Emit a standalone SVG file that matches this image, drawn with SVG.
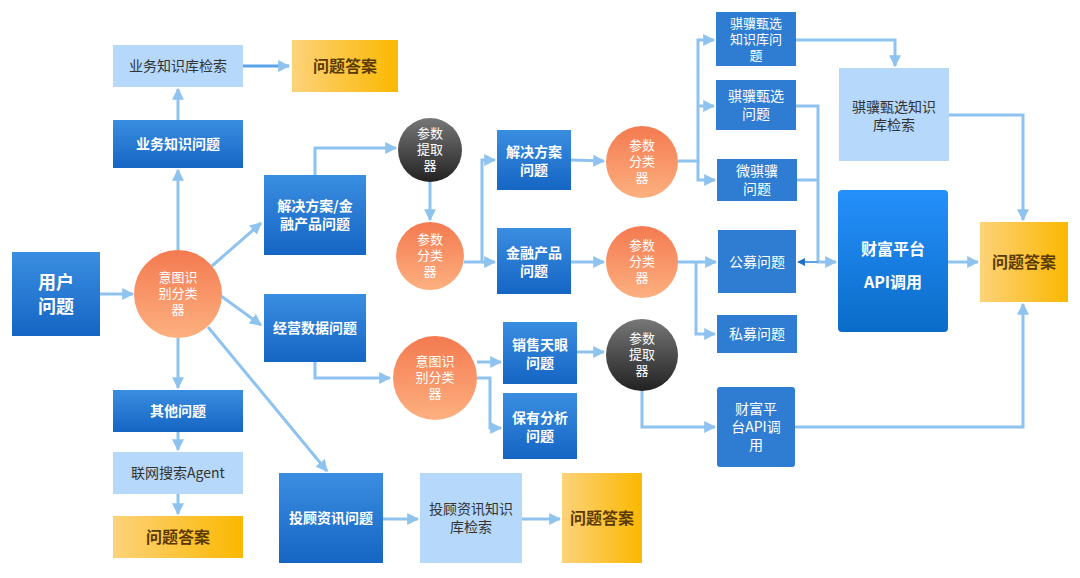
<svg xmlns="http://www.w3.org/2000/svg" width="1080" height="578" viewBox="0 0 1080 578">
<defs>
<linearGradient id="gb" x1="0" y1="0" x2="0" y2="1"><stop offset="0" stop-color="#3a8ee0"/><stop offset="1" stop-color="#1565c4"/></linearGradient>
<linearGradient id="gbig" x1="0" y1="0" x2="0" y2="1"><stop offset="0" stop-color="#2590fb"/><stop offset="1" stop-color="#0a6cc8"/></linearGradient>
<linearGradient id="gy" x1="0" y1="0" x2="1" y2="0"><stop offset="0" stop-color="#fdd27a"/><stop offset="1" stop-color="#fbb800"/></linearGradient>
<linearGradient id="go" x1="0" y1="0" x2="0" y2="1"><stop offset="0" stop-color="#f47a50"/><stop offset="1" stop-color="#fdb080"/></linearGradient>
<linearGradient id="gd" x1="0" y1="0" x2="0" y2="1"><stop offset="0" stop-color="#777"/><stop offset="1" stop-color="#222"/></linearGradient>
<marker id="ar" viewBox="0 0 10 10" refX="9" refY="5" markerWidth="4" markerHeight="4" orient="auto"><path d="M0,0L10,5L0,10z" fill="#8ec3ef"/></marker>
<marker id="ard" viewBox="0 0 10 10" refX="9" refY="5" markerWidth="4" markerHeight="4" orient="auto"><path d="M0,0L10,5L0,10z" fill="#1f6fc8"/></marker>
<style>
.b{fill:url(#gb)}.l{fill:#b5d8fb}.y{fill:url(#gy)}
.t{font-family:"Noto Sans CJK SC","Noto Sans",sans-serif;font-size:14px;fill:#fff;text-anchor:middle}
.s{font-size:13px}
.tb{font-weight:bold}
.td{fill:#333}.ty{fill:#5a3a00;font-weight:bold;font-size:16px}
.c path,.c line,.c polyline{fill:none;stroke:#8ec3ef;stroke-width:3;marker-end:url(#ar)}
</style>
</defs>
<g class="c" id="connectors">
<line x1="100" y1="294" x2="133" y2="294"/>
<line x1="178" y1="250" x2="178" y2="170"/>
<line x1="178" y1="120" x2="178" y2="89"/>
<line x1="243" y1="66" x2="289" y2="66" style="stroke:#5aa3e8"/>
<line x1="178" y1="338" x2="178" y2="388"/>
<line x1="178" y1="432" x2="178" y2="450"/>
<line x1="178" y1="494" x2="178" y2="514"/>
<line x1="212" y1="266" x2="261" y2="223"/>
<line x1="221" y1="296" x2="261" y2="325"/>
<line x1="208" y1="327" x2="327" y2="471"/>
<polyline points="315,175 315,148 396,148"/>
<line x1="430" y1="182" x2="430" y2="220"/>
<polyline points="464,262 482,262 482,160 495,160"/>
<line x1="482" y1="262" x2="495" y2="262"/>
<line x1="571" y1="160" x2="604" y2="161"/>
<line x1="571" y1="262" x2="604" y2="262"/>
<polyline points="678,161 698,161 698,40 714,40"/>
<line x1="698" y1="106" x2="714" y2="106"/>
<polyline points="698,161 698,180 715,180"/>
<polyline points="796,40 895,40 895,66"/>
<polyline points="796,106 818,106 818,262 836,262"/>
<polyline points="797,180 818,180" style="marker-end:none"/>
<line x1="818" y1="262" x2="798" y2="262" style="stroke:#5aa3e8;stroke-width:2;marker-end:url(#ard)"/>
<line x1="678" y1="262" x2="716" y2="262"/>
<polyline points="696,262 696,334 715,334"/>
<polyline points="949,115 1023,115 1023,220"/>
<line x1="948" y1="262" x2="978" y2="262"/>
<polyline points="315,362 315,378 390,378"/>
<line x1="477" y1="362" x2="501" y2="362"/>
<polyline points="477,378 490,378 490,428 501,428"/>
<line x1="577" y1="352" x2="604" y2="352"/>
<polyline points="642,391 642,427 715,427"/>
<polyline points="795,427 1023,427 1023,304"/>
<line x1="383" y1="519" x2="418" y2="519"/>
<line x1="522" y1="519" x2="560" y2="519"/>
</g>
<g id="n1"><rect class="b" x="12" y="252" width="88" height="84"/><text class="t tb" x="56" y="289" style="font-size:18px">用户</text><text class="t tb" x="56" y="313" style="font-size:18px">问题</text></g>
<g id="n2"><circle cx="178" cy="294" r="44" fill="url(#go)"/><text class="t s" x="178" y="282">意图识</text><text class="t s" x="178" y="298">别分类</text><text class="t s" x="178" y="314">器</text></g>
<g id="n3"><rect class="b" x="113" y="120" width="130" height="48"/><text class="t tb" x="178" y="149">业务知识问题</text></g>
<g id="n4"><rect class="l" x="113" y="45" width="130" height="42"/><text class="t td" x="178" y="71">业务知识库检索</text></g>
<g id="n5"><rect class="y" x="292" y="40" width="106" height="52"/><text class="t ty" x="345" y="72">问题答案</text></g>
<g id="n6"><rect class="b" x="113" y="390" width="130" height="42"/><text class="t tb" x="178" y="416">其他问题</text></g>
<g id="n7"><rect class="l" x="113" y="452" width="130" height="42"/><text class="t td" x="178" y="478">联网搜索Agent</text></g>
<g id="n8"><rect class="y" x="113" y="516" width="130" height="42"/><text class="t ty" x="178" y="543">问题答案</text></g>
<g id="n9"><rect class="b" x="264" y="175" width="102" height="80"/><text class="t tb" x="315" y="211">解决方案/金</text><text class="t tb" x="315" y="229">融产品问题</text></g>
<g id="n10"><rect class="b" x="264" y="294" width="102" height="68"/><text class="t tb" x="315" y="333">经营数据问题</text></g>
<g id="n11"><rect class="b" x="279" y="473" width="104" height="90"/><text class="t tb" x="331" y="523">投顾资讯问题</text></g>
<g id="n12"><rect class="l" x="420" y="473" width="102" height="90"/><text class="t td" x="471" y="514">投顾资讯知识</text><text class="t td" x="471" y="532">库检索</text></g>
<g id="n13"><rect class="y" x="562" y="473" width="80" height="90"/><text class="t ty" x="602" y="524">问题答案</text></g>
<g id="n14"><circle cx="430" cy="150" r="32" fill="url(#gd)"/><text class="t s" x="430" y="138">参数</text><text class="t s" x="430" y="154">提取</text><text class="t s" x="430" y="170">器</text></g>
<g id="n15"><circle cx="430" cy="256" r="34" fill="url(#go)"/><text class="t s" x="430" y="244">参数</text><text class="t s" x="430" y="260">分类</text><text class="t s" x="430" y="276">器</text></g>
<g id="n16"><rect class="b" x="497" y="130" width="74" height="60"/><text class="t tb" x="534" y="157">解决方案</text><text class="t tb" x="534" y="175">问题</text></g>
<g id="n17"><rect class="b" x="497" y="228" width="74" height="66"/><text class="t tb" x="534" y="258">金融产品</text><text class="t tb" x="534" y="276">问题</text></g>
<g id="n18"><circle cx="642" cy="162" r="36" fill="url(#go)"/><text class="t s" x="642" y="150">参数</text><text class="t s" x="642" y="166">分类</text><text class="t s" x="642" y="182">器</text></g>
<g id="n19"><circle cx="642" cy="262" r="36" fill="url(#go)"/><text class="t s" x="642" y="250">参数</text><text class="t s" x="642" y="266">分类</text><text class="t s" x="642" y="282">器</text></g>
<g id="n20"><circle cx="435" cy="378" r="42" fill="url(#go)"/><text class="t s" x="435" y="366">意图识</text><text class="t s" x="435" y="382">别分类</text><text class="t s" x="435" y="398">器</text></g>
<g id="n21"><rect class="b" x="503" y="322" width="74" height="62"/><text class="t tb" x="540" y="350">销售天眼</text><text class="t tb" x="540" y="368">问题</text></g>
<g id="n22"><rect class="b" x="503" y="393" width="74" height="66"/><text class="t tb" x="540" y="423">保有分析</text><text class="t tb" x="540" y="441">问题</text></g>
<g id="n23"><circle cx="642" cy="355" r="36" fill="url(#gd)"/><text class="t s" x="642" y="343">参数</text><text class="t s" x="642" y="359">提取</text><text class="t s" x="642" y="375">器</text></g>
<g id="n24"><rect x="716" y="12" width="80" height="54" fill="#2e7dd2"/><text class="t s" x="756" y="28">骐骥甄选</text><text class="t s" x="756" y="44">知识库问</text><text class="t s" x="756" y="60">题</text></g>
<g id="n25"><rect x="716" y="80" width="80" height="50" fill="#2e7dd2"/><text class="t" x="756" y="101">骐骥甄选</text><text class="t" x="756" y="119">问题</text></g>
<g id="n26"><rect x="717" y="159" width="80" height="42" fill="#2e7dd2"/><text class="t" x="757" y="176">微骐骥</text><text class="t" x="757" y="194">问题</text></g>
<g id="n27"><rect x="718" y="230" width="78" height="63" fill="#2e7dd2"/><text class="t" x="757" y="267">公募问题</text></g>
<g id="n28"><rect x="717" y="315" width="80" height="38" fill="#2e7dd2"/><text class="t" x="757" y="339">私募问题</text></g>
<g id="n29"><rect x="717" y="387" width="78" height="80" rx="3" fill="#2e7dd2"/><text class="t" x="756" y="414">财富平</text><text class="t" x="756" y="432">台API调</text><text class="t" x="756" y="450">用</text></g>
<g id="n30"><rect class="l" x="839" y="68" width="110" height="93"/><text class="t td" x="894" y="112">骐骥甄选知识</text><text class="t td" x="894" y="130">库检索</text></g>
<g id="n31"><rect x="838" y="190" width="110" height="142" rx="4" fill="url(#gbig)"/><text class="t tb" x="893" y="255" style="font-size:16px">财富平台</text><text class="t tb" x="893" y="288" style="font-size:16px">API调用</text></g>
<g id="n32"><rect class="y" x="980" y="222" width="88" height="80"/><text class="t ty" x="1024" y="268">问题答案</text></g>
</svg>
